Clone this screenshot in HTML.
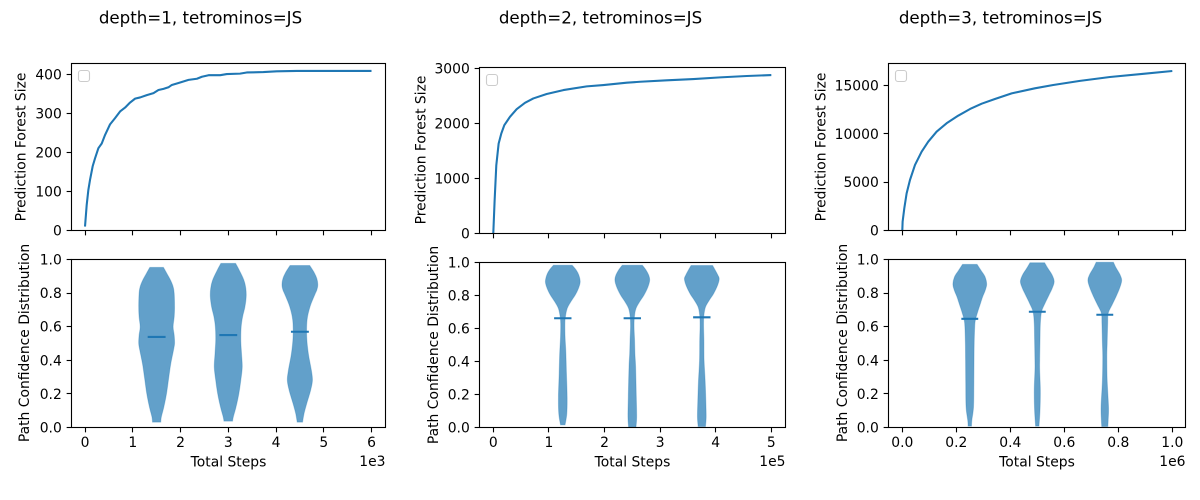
<!DOCTYPE html>
<html lang="en">
<head>
<meta charset="utf-8">
<title>Prediction forest size and path confidence</title>
<style>
  html, body { margin: 0; padding: 0; background: #fff; }
  svg { display: block; }
  text { font-family: "DejaVu Sans", "Liberation Sans", sans-serif; font-size: 13.89px; fill: #000; }
  .fig-title { font-size: 16.67px; text-anchor: middle; }
  .axis-title { text-anchor: middle; }
  .offset { text-anchor: end; }
  .frame { fill: none; stroke: #000; stroke-width: 1.11; }
  .legend { fill: #fff; fill-opacity: .8; stroke: #ccc; stroke-width: 1.11; }
</style>
</head>
<body>
<svg id="chart" xmlns="http://www.w3.org/2000/svg" width="1200" height="500" viewBox="0 0 1200 500">
  <rect width="1200" height="500" fill="#fff"/>
  <text class="fig-title" x="200.5" y="23.7">depth=1, tetrominos=JS</text>
  <text class="fig-title" x="600.5" y="23.7">depth=2, tetrominos=JS</text>
  <text class="fig-title" x="1000.5" y="23.7">depth=3, tetrominos=JS</text>

  <g id="marks"></g>

  <rect class="frame" x="71.5" y="63.5" width="314" height="167"/>
  <rect class="frame" x="71.5" y="259.5" width="314" height="168"/>
  <rect class="frame" x="479.5" y="67.5" width="306" height="166"/>
  <rect class="frame" x="479.5" y="262.5" width="306" height="165"/>
  <rect class="frame" x="888.5" y="63.5" width="297" height="167"/>
  <rect class="frame" x="888.5" y="259.5" width="297" height="168"/>

  <rect class="legend" x="78.5" y="70.5" width="11" height="11" rx="2.5"/>
  <rect class="legend" x="486.5" y="74.5" width="11" height="11" rx="2.5"/>
  <rect class="legend" x="895.5" y="70.5" width="11" height="11" rx="2.5"/>

  <text class="axis-title" transform="translate(25.5 147) rotate(-90)">Prediction Forest Size</text>
  <text class="axis-title" transform="translate(29 343) rotate(-90)">Path Confidence Distribution</text>
  <text class="axis-title" transform="translate(425.5 150) rotate(-90)">Prediction Forest Size</text>
  <text class="axis-title" transform="translate(438 345) rotate(-90)">Path Confidence Distribution</text>
  <text class="axis-title" transform="translate(825.5 147) rotate(-90)">Prediction Forest Size</text>
  <text class="axis-title" transform="translate(847 343) rotate(-90)">Path Confidence Distribution</text>

  <text class="axis-title" x="228.5" y="466.5">Total Steps</text>
  <text class="axis-title" x="632.5" y="466.5">Total Steps</text>
  <text class="axis-title" x="1037" y="466.5">Total Steps</text>
  <text class="offset" x="385.5" y="466">1e3</text>
  <text class="offset" x="785.5" y="466">1e5</text>
  <text class="offset" x="1185.5" y="466">1e6</text>
</svg>

<script>
/* ---------- depth = 1 ---------- */
const depth1Steps = [0,35,70,105,161,210,280,350,420,524,629,734,839,944,1049,1154,1294,1434,1538,1643,1748,1818,1958,2168,2343,2448,2587,2832,2969,3247,3387,3735,4014,4432,6000];
const depth1Forest = [10,65,104,130,165,185,211,223,245,272,288,305,315,328,338,341,347,352,360,363,367,373,378,386,389,394,398,398,401,402,405,406,408,409,409];
const depth1XTicks = [0,1000,2000,3000,4000,5000,6000];
const depth1XLabels = ["0","1","2","3","4","5","6"];
const depth1ForestTicks = [0,100,200,300,400];
const depth1ForestLabels = ["0","100","200","300","400"];
const depth1Positions = [1500,3000,4500];
const depth1Means = [0.539,0.55,0.57];
const depth1Conf = [
  [.953,.917,.878,.838,.798,.718,.659,.599,.549,.50,.46,.38,.30,.201,.121,.062,.032],
  [.977,.937,.878,.828,.778,.718,.659,.599,.519,.44,.36,.281,.201,.121,.062,.038],
  [.964,.92,.885,.85,.82,.79,.72,.64,.54,.441,.341,.281,.222,.142,.082,.032]
];
const depth1Density = [
  [.38,.57,.77,.92,.98,1,.98,.92,.98,1,.94,.79,.68,.55,.40,.26,.23],
  [.41,.61,.87,.98,1,.93,.80,.72,.70,.74,.78,.70,.59,.43,.28,.24],
  [.55,.81,.95,1,.95,.83,.57,.40,.38,.47,.64,.70,.60,.38,.23,.15]
];

/* ---------- depth = 2 ---------- */
const depth2Steps = [0,2400,5400,9600,14400,19800,30000,42000,57000,72000,96000,126000,168000,198000,240000,264000,312000,360000,408000,456000,500000];
const depth2Forest = [0,600,1240,1637,1820,1972,2124,2264,2380,2459,2539,2611,2678,2702,2745,2763,2788,2812,2842,2867,2885];
const depth2XTicks = [0,100000,200000,300000,400000,500000];
const depth2XLabels = ["0","1","2","3","4","5"];
const depth2ForestTicks = [0,1000,2000,3000];
const depth2ForestLabels = ["0","1000","2000","3000"];
const depth2Positions = [125000,250000,375000];
const depth2Means = [0.662,0.662,0.668];
const depth2Conf = [
  [.983,.954,.924,.883,.843,.802,.762,.721,.671,.63,.549,.468,.407,.326,.184,.083,.016],
  [.983,.954,.924,.893,.852,.802,.762,.721,.671,.61,.529,.448,.366,.184,.063,0],
  [.982,.954,.924,.9,.86,.81,.77,.73,.68,.62,.53,.407,.285,.164,.063,.006]
];
const depth2Density = [
  [.54,.77,.92,1,.90,.71,.46,.25,.15,.12,.13,.17,.19,.21,.25,.23,.13],
  [.58,.79,.94,1,.90,.67,.42,.21,.12,.10,.13,.15,.19,.23,.25,.21],
  [.62,.77,.92,1,.90,.67,.42,.21,.12,.10,.12,.13,.19,.23,.25,.21]
];

/* ---------- depth = 3 ---------- */
const depth3Steps = [0,1200,7400,16000,28400,47000,71600,96000,127000,164000,207000,251000,294000,343000,405000,491000,559000,658000,769000,893000,1000000];
const depth3Forest = [0,914,2290,3840,5225,6780,8155,9190,10225,11090,11880,12570,13120,13600,14190,14710,15050,15480,15880,16210,16500];
const depth3XTicks = [0,200000,400000,600000,800000,1000000];
const depth3XLabels = ["0.0","0.2","0.4","0.6","0.8","1.0"];
const depth3ForestTicks = [0,5000,10000,15000];
const depth3ForestLabels = ["0","5000","10000","15000"];
const depth3Positions = [250000,500000,750000];
const depth3Means = [0.647,0.689,0.671];
const depth3Conf = [
  [.971,.937,.898,.854,.818,.778,.738,.689,.639,.599,.50,.40,.261,.122,.042,.008],
  [.981,.947,.907,.868,.828,.788,.738,.689,.619,.519,.40,.341,.222,.102,.008],
  [.984,.95,.91,.875,.83,.78,.73,.68,.62,.5,.421,.281,.122,.042,.006]
];
const depth3Density = [
  [.43,.65,.90,1,.92,.76,.63,.47,.33,.29,.26,.25,.24,.22,.12,.10],
  [.43,.63,.88,1,.88,.69,.45,.25,.18,.16,.14,.14,.18,.16,.10],
  [.51,.67,.90,1,.88,.67,.43,.20,.17,.14,.12,.14,.22,.20,.18]
];

/* ---------- shared confidence axis ---------- */
const confidenceTicks = [0,0.2,0.4,0.6,0.8,1];
const confidenceLabels = ["0.0","0.2","0.4","0.6","0.8","1.0"];

const NS = "http://www.w3.org/2000/svg";
const BLUE = "#1f77b4";
const root = document.getElementById("marks");

function linear(domain, range) {
  return function (v) {
    return range[0] + (v - domain[0]) / (domain[1] - domain[0]) * (range[1] - range[0]);
  };
}
function make(tag, attrs, text) {
  const el = document.createElementNS(NS, tag);
  Object.keys(attrs).forEach(function (k) { el.setAttribute(k, attrs[k]); });
  if (text !== undefined) el.textContent = text;
  root.appendChild(el);
  return el;
}
function snap(v) { return Math.round(v - 0.5) + 0.5; }

function xAxisTicks(x, bottom, ticks, labels, showLabels, key) {
  ticks.forEach(function (t, i) {
    const px = snap(x(t));
    const tick = make("line", { x1: px, x2: px, y1: bottom, y2: bottom + 4.86, stroke: "#000", "stroke-width": 1.11 });
    
    
    if (showLabels) {
      const label = make("text", { x: x(t), y: bottom + 19.5, "text-anchor": "middle" }, labels[i]);
      
      
    }
  });
}
function yAxisTicks(y, left, ticks, labels, key) {
  ticks.forEach(function (t, i) {
    const py = snap(y(t));
    const tick = make("line", { x1: left - 4.86, x2: left, y1: py, y2: py, stroke: "#000", "stroke-width": 1.11 });
    
    
    const label = make("text", { x: left - 9.7, y: y(t) + 5, "text-anchor": "end" }, labels[i]);
    
    
  });
}
function drawLine(x, y, steps, sizes, key) {
  const d = steps.map(function (s, i) {
    return (i ? "L" : "M") + x(s).toFixed(2) + " " + y(sizes[i]).toFixed(2);
  }).join("");
  const line = make("path", { d: d, fill: "none", stroke: BLUE, "stroke-width": 2.08, "stroke-linejoin": "round" });
  
  
}
/* Smooth one edge through points with a Catmull-Rom spline. */
function spline(pts, start) {
  let d = (start ? "M" : "L") + pts[0][0].toFixed(2) + " " + pts[0][1].toFixed(2);
  for (let i = 0; i < pts.length - 1; i++) {
    const p0 = pts[Math.max(i - 1, 0)], p1 = pts[i], p2 = pts[i + 1], p3 = pts[Math.min(i + 2, pts.length - 1)];
    const c1 = [p1[0] + (p2[0] - p0[0]) / 6, p1[1] + (p2[1] - p0[1]) / 6];
    const c2 = [p2[0] - (p3[0] - p1[0]) / 6, p2[1] - (p3[1] - p1[1]) / 6];
    d += "C" + c1[0].toFixed(2) + " " + c1[1].toFixed(2) + " " + c2[0].toFixed(2) + " " + c2[1].toFixed(2) + " " + p2[0].toFixed(2) + " " + p2[1].toFixed(2);
  }
  return d;
}
function drawViolins(x, y, positions, means, conf, density, halfWidth, key) {
  positions.forEach(function (pos, i) {
    const right = conf[i].map(function (c, j) { return [x(pos + density[i][j] * halfWidth), y(c)]; });
    const left = conf[i].map(function (c, j) { return [x(pos - density[i][j] * halfWidth), y(c)]; }).reverse();
    const body = make("path", { d: spline(right, true) + spline(left, false) + "Z", fill: BLUE, "fill-opacity": 0.7, stroke: BLUE, "stroke-opacity": 0.3, "stroke-width": 1 });
    
    
    const mean = make("line", { x1: x(pos - halfWidth / 2), x2: x(pos + halfWidth / 2), y1: y(means[i]), y2: y(means[i]), stroke: BLUE, "stroke-width": 2.08 });
    
    
  });
}

/* ---------- depth = 1 panels ---------- */
const x1 = linear([-283, 6293], [71.5, 385.5]);
const y1Top = linear([0, 428], [230.5, 63.5]);
const y1Bot = linear([0, 1], [427.5, 259.5]);
drawLine(x1, y1Top, depth1Steps, depth1Forest, "depth-1");
xAxisTicks(x1, 230.5, depth1XTicks, depth1XLabels, false, "forest-depth-1");
yAxisTicks(y1Top, 71.5, depth1ForestTicks, depth1ForestLabels, "forest-depth-1");
drawViolins(x1, y1Bot, depth1Positions, depth1Means, depth1Conf, depth1Density, 375, "depth-1");
xAxisTicks(x1, 427.5, depth1XTicks, depth1XLabels, true, "confidence-depth-1");
yAxisTicks(y1Bot, 71.5, confidenceTicks, confidenceLabels, "confidence-depth-1");

/* ---------- depth = 2 panels ---------- */
const x2 = linear([-24800, 525500], [479.5, 785.5]);
const y2Top = linear([0, 3022], [233.5, 67.5]);
const y2Bot = linear([0, 1], [427.5, 262.5]);
drawLine(x2, y2Top, depth2Steps, depth2Forest, "depth-2");
xAxisTicks(x2, 233.5, depth2XTicks, depth2XLabels, false, "forest-depth-2");
yAxisTicks(y2Top, 479.5, depth2ForestTicks, depth2ForestLabels, "forest-depth-2");
drawViolins(x2, y2Bot, depth2Positions, depth2Means, depth2Conf, depth2Density, 31250, "depth-2");
xAxisTicks(x2, 427.5, depth2XTicks, depth2XLabels, true, "confidence-depth-2");
yAxisTicks(y2Bot, 479.5, confidenceTicks, confidenceLabels, "confidence-depth-2");

/* ---------- depth = 3 panels ---------- */
const x3 = linear([-51100, 1048900], [888.5, 1185.5]);
const y3Top = linear([0, 17276], [230.5, 63.5]);
const y3Bot = linear([0, 1], [427.5, 259.5]);
drawLine(x3, y3Top, depth3Steps, depth3Forest, "depth-3");
xAxisTicks(x3, 230.5, depth3XTicks, depth3XLabels, false, "forest-depth-3");
yAxisTicks(y3Top, 888.5, depth3ForestTicks, depth3ForestLabels, "forest-depth-3");
drawViolins(x3, y3Bot, depth3Positions, depth3Means, depth3Conf, depth3Density, 62500, "depth-3");
xAxisTicks(x3, 427.5, depth3XTicks, depth3XLabels, true, "confidence-depth-3");
yAxisTicks(y3Bot, 888.5, confidenceTicks, confidenceLabels, "confidence-depth-3");
</script>
</body>
</html>
